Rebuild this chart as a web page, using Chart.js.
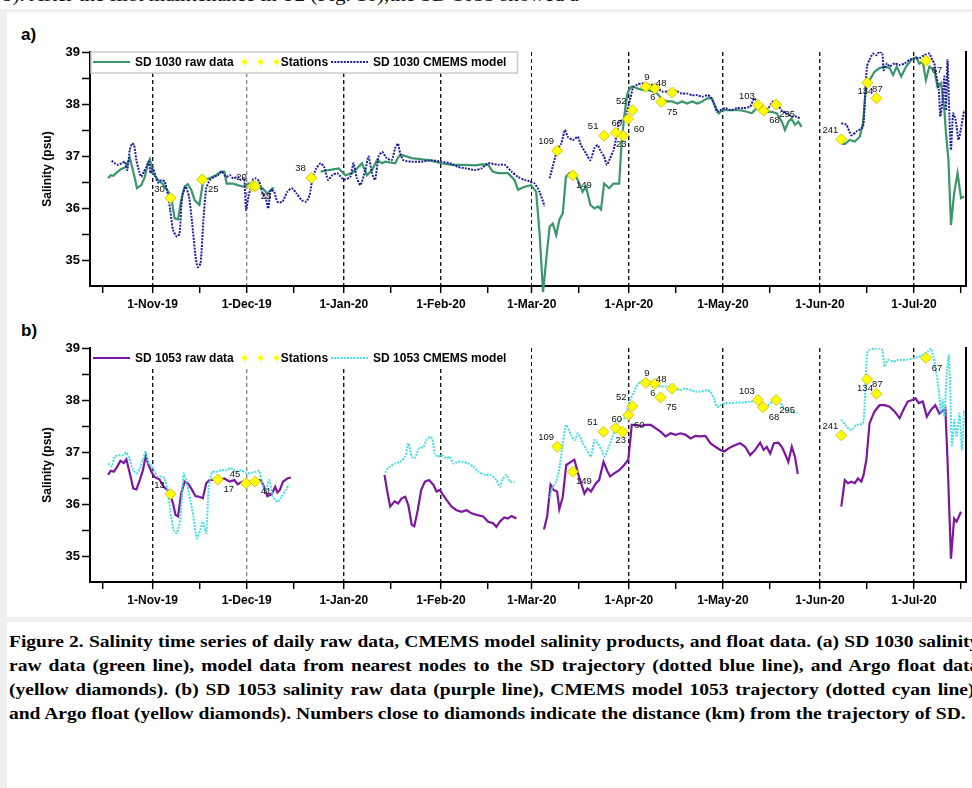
<!DOCTYPE html>
<html>
<head>
<meta charset="utf-8">
<script src="https://cdn.jsdelivr.net/npm/chart.js@4.4.1/dist/chart.umd.min.js"></script>
<style>
  html, body { margin: 0; padding: 0; background: #fff; }
  body { width: 972px; height: 788px; overflow: hidden; position: relative; font-family: "Liberation Sans", Arial, sans-serif; }
  #toptext { position: absolute; left: 2px; top: -15px; font: 18px "Liberation Serif", serif; white-space: nowrap; color: #111; transform: scaleX(1.17); transform-origin: 0 0; }
  #frame { position: absolute; left: 0; top: 9px; width: 972px; height: 779px; border-left: 7px solid #efefef; border-top: 3px solid #efefef; box-sizing: border-box; }
  #band { position: absolute; left: 0; top: 617px; width: 972px; height: 5px; background: #efefef; }
  .panel { position: absolute; left: 21px; font: bold 17px/17px "Liberation Sans", Arial, sans-serif; color: #000; }
  canvas { position: absolute; left: 0; }
  #caption { position: absolute; left: 9px; top: 630px; width: 846px; font: bold 17px/24px "Liberation Serif", serif; color: #000; transform: scaleX(1.147); transform-origin: 0 0; }
  #caption div { white-space: nowrap; }
  #caption .just { text-align: justify; text-align-last: justify; }
</style>
</head>
<body>
<div id="toptext">b). After the first maintenance in T2 (Fig. 10),the SD 1053 showed a</div>
<div id="frame"></div>
<div id="band"></div>
<div class="panel" style="top:26px">a)</div>
<div class="panel" style="top:322px">b)</div>
<canvas id="chart-a" width="972" height="296" style="top:20px"></canvas>
<canvas id="chart-b" width="972" height="300" style="top:316px"></canvas>
<div id="caption">
  <div class="just">Figure 2. Salinity time series of daily raw data, CMEMS model salinity products, and float data. (a) SD 1030 salinity</div>
  <div class="just">raw data (green line), model data from nearest nodes to the SD trajectory (dotted blue line), and Argo float data</div>
  <div class="just">(yellow diamonds). (b) SD 1053 salinity raw data (purple line), CMEMS model 1053 trajectory (dotted cyan line),</div>
  <div>and Argo float (yellow diamonds). Numbers close to diamonds indicate the distance (km) from the trajectory of SD.</div>
</div>
<script>
// x values are days counted from 1 Oct 2019 (day 0)
const monthTicks = [31, 61, 92, 123, 152, 183, 213, 244, 274];
const monthLabels = ["1-Nov-19", "1-Dec-19", "1-Jan-20", "1-Feb-20", "1-Mar-20", "1-Apr-20", "1-May-20", "1-Jun-20", "1-Jul-20"];
const midMonthTicks = [15, 46, 76, 107, 138, 167, 198, 228, 259, 289];
const salinityTicks = [35, 35.5, 36, 36.5, 37, 37.5, 38, 38.5, 39];

// [day, salinity]; a null salinity breaks the line
const sd1030Raw = [
  [16.8, 36.57], [17.6, 36.63], [18.4, 36.62], [19.5, 36.68], [20.7, 36.74], [22.4, 36.79], [23.7, 36.96], [24.8, 36.7],
  [26, 36.38], [27.4, 36.44], [28.5, 36.6], [29.5, 36.86], [30.1, 36.94], [31.1, 36.67], [32.7, 36.54], [34.1, 36.47],
  [35.6, 36.35], [36.9, 36.22], [38, 35.8], [39.1, 35.78], [40.1, 36.15], [41.2, 36.41], [42.2, 36.46], [43.3, 36.35],
  [44.4, 36.15], [45.9, 36.06], [47, 36.47], [47.5, 36.54], [49.1, 36.57], [51.2, 36.63], [52.8, 36.7], [53.9, 36.7],
  [54.6, 36.47], [56.5, 36.47], [58.1, 36.44], [59.9, 36.41], [61.6, 36.47], [62.9, 36.44], [66.1, 36.38], [67.6, 36.28],
  [69.2, 36.38], [69.8, 36.38],
  [77, null],
  [84.6, 36.7], [87.2, 36.73], [90.4, 36.76], [92.5, 36.63], [94.6, 36.67], [96.2, 36.76], [97.8, 36.86], [99.4, 36.63],
  [101, 36.73], [102.6, 36.92], [104.2, 36.86], [105.2, 36.89], [108.4, 36.86], [109.5, 36.99], [110.5, 37.02], [113.7, 36.96],
  [119, 36.92], [123.2, 36.86], [126.4, 36.83], [130.7, 36.83], [134, 36.82], [136, 36.84], [138.1, 36.83], [139.5, 36.7],
  [141.3, 36.67], [144.4, 36.67], [146.5, 36.54], [147.6, 36.35], [149.7, 36.41], [151.8, 36.44], [153.4, 36.31], [154.5, 35.51],
  [155.6, 34.38], [156.6, 35.0], [157.7, 35.64], [158.7, 35.7], [159.8, 35.48], [160.8, 35.77], [161.9, 35.9], [162.9, 36.6],
  [164, 36.67], [165.6, 36.67], [167.2, 36.47], [168.2, 36.31], [169.3, 36.41], [170.7, 36.06], [172, 35.99], [173.2, 36.03],
  [174.1, 35.97], [175.1, 36.47], [176.7, 36.38], [178.1, 36.47], [179.9, 36.47], [180.6, 37.18], [181.5, 37.76], [182.5, 38.2],
  [183.6, 38.33], [184.6, 38.33], [185.7, 38.3], [187.3, 38.27], [188.9, 38.27], [190.5, 38.24], [192.1, 38.2], [193.7, 38.08],
  [195.2, 38.05], [196.8, 38.05], [198.4, 38.01], [200, 38.05], [201.6, 38.01], [203.2, 38.05], [204.8, 38.01], [206.4, 38.05],
  [208, 38.11], [209.5, 38.11], [210.6, 37.95], [211.7, 37.82], [212.7, 37.88], [214.3, 37.88], [216.4, 37.88], [218.5, 37.88],
  [220.7, 37.85], [222.2, 37.82], [223.8, 37.92], [224.9, 37.98], [225.9, 37.88], [227, 37.85], [228.6, 37.85], [230.2, 37.82],
  [231.8, 37.66], [232.8, 37.5], [233.9, 37.66], [234.9, 37.72], [236, 37.6], [237.1, 37.66], [238.1, 37.56],
  [244, null],
  [250.8, 37.24], [251.9, 37.23], [253.5, 37.31], [255.1, 37.28], [256.7, 37.37], [257.7, 37.63], [258.6, 38.27], [259.8, 38.46],
  [261.4, 38.62], [263, 38.69], [264.6, 38.72], [266.2, 38.69], [267.3, 38.56], [268.5, 38.72], [269.9, 38.53], [271.5, 38.72],
  [273.1, 38.85], [274.7, 38.9], [275.7, 38.78], [276.8, 38.81], [277.8, 38.46], [278.9, 38.72], [280.5, 38.65], [281.5, 38.33],
  [282.6, 38.4], [283.7, 37.88], [284.2, 37.44], [285, 36.92], [285.8, 35.67], [286.8, 36.28], [287.9, 36.67], [289, 36.19],
  [290, 36.22],
];

const sd1030Model = [
  [17.9, 36.91], [18.9, 36.86], [20, 36.83], [21.1, 36.86], [22.1, 36.89], [22.9, 36.73], [23.7, 37.12], [24.4, 37.24],
  [25.1, 37.21], [25.8, 36.92], [26.7, 36.7], [27.4, 36.6], [28.2, 36.7], [29, 36.79], [29.8, 36.89], [30.3, 36.67],
  [31.1, 36.76], [32, 36.6], [32.7, 36.49], [33.8, 36.54], [34.8, 36.51], [35.9, 36.25], [36.6, 35.96], [37.5, 35.58],
  [38.7, 35.45], [39.6, 35.51], [40.4, 36.22], [41.5, 36.41], [42.6, 36.22], [43.6, 35.71], [44.7, 35.06], [45.4, 34.86],
  [46.3, 34.94], [47.2, 35.77], [48.1, 36.38], [49.3, 36.54], [50.7, 36.6], [51.8, 36.63], [53.1, 36.7], [54.4, 36.6],
  [55.7, 36.63], [56.7, 36.57], [58.1, 36.6], [59.2, 36.54], [60.2, 36.57], [60.8, 35.96], [61.6, 36.22], [62.9, 36.54],
  [63.9, 36.57], [65, 36.51], [66.1, 36.28], [67.1, 36.19], [67.9, 35.99], [68.7, 36.35], [69.8, 36.31], [70.8, 36.12],
  [72.4, 36.12], [74, 36.31], [75.4, 36.38], [76.9, 36.28], [78.6, 36.15], [80, 36.12], [81.1, 36.25], [82, 36.57],
  [83.2, 36.76], [84.6, 36.86], [85.7, 36.79], [87, 36.54], [88.3, 36.63], [89.9, 36.67], [91.5, 36.57], [92.5, 36.55],
  [94.1, 36.6], [95.1, 36.86], [96.2, 36.57], [97.3, 36.44], [98.9, 36.73], [99.9, 36.99], [101, 36.67], [102, 36.54],
  [103.1, 36.99], [104.2, 37.08], [105.7, 36.96], [107.3, 36.92], [108.4, 37.15], [109.3, 37.24], [110, 37.05], [111, 36.92],
  [113.7, 36.89], [116.8, 36.89], [120, 36.92], [123.2, 36.89], [125.8, 36.86], [128.5, 36.79], [131.1, 36.76], [133.8, 36.73],
  [135.9, 36.76], [138.1, 36.86], [141.3, 36.83], [143.4, 36.83], [145.5, 36.7], [147.6, 36.6], [149.7, 36.54], [151.3, 36.51],
  [152.9, 36.47], [154.5, 36.31], [156.1, 36.03],
  [157, null],
  [157.7, 36.57], [158.7, 36.8], [160.1, 37.11], [161.4, 37.24], [162.6, 37.5], [163.5, 37.37], [165.1, 37.31], [166.7, 37.37],
  [167.7, 37.21], [169.3, 37.05], [170.7, 36.92], [172, 37.15], [173, 37.21], [174.1, 37.08], [175.1, 36.99], [176, 36.83],
  [177, 36.96], [178.1, 37.11], [178.8, 37.31], [179.9, 37.66], [181, 37.69], [182, 37.72], [182.5, 37.88], [183.6, 38.14],
  [184.4, 38.33], [185.7, 38.37], [187.3, 38.4], [188.9, 38.37], [190.5, 38.37], [192.1, 38.3], [193.7, 38.24], [195.2, 38.24],
  [196.8, 38.27], [198.4, 38.24], [200, 38.2], [201.6, 38.2], [203.2, 38.17], [204.8, 38.17], [206.4, 38.14], [208, 38.17],
  [209, 38.14], [210.1, 38.01], [211.1, 37.85], [212.2, 37.88], [213.8, 37.92], [215.4, 37.88], [217.5, 37.92], [219.6, 37.92],
  [221.7, 37.95], [223, 38.11], [223.8, 38.05], [224.9, 37.98], [226.2, 37.85], [227.5, 37.92], [229.1, 38.05], [230.4, 37.98],
  [231.8, 37.88], [233.4, 37.82], [235, 37.76], [236.5, 37.76], [237.6, 37.72],
  [244, null],
  [250.8, 37.63], [252.4, 37.6], [254, 37.4], [255.6, 37.47], [257.7, 37.56], [258.3, 38.08], [259, 38.72], [259.8, 38.85],
  [260.9, 38.97], [262, 38.94], [263, 39.01], [263.9, 38.97], [264.3, 38.65], [265.4, 38.78], [266.2, 38.72], [267.8, 38.78],
  [269.4, 38.75], [271, 38.78], [272.6, 38.85], [274.2, 38.88], [275.7, 38.88], [277.3, 38.94], [278.9, 38.97], [279.8, 38.85],
  [280.5, 38.78], [281, 38.59], [281.9, 38.27], [282.4, 37.76], [283.1, 38.08], [283.7, 38.53], [284.2, 37.88], [284.7, 38.85],
  [285.3, 37.76], [285.8, 37.12], [286.5, 37.82], [287.3, 37.69], [288.2, 37.31], [288.9, 37.5], [290, 37.88],
];

const stationsA = [
  [36.7, 36.19], [46.8, 36.55], [62.9, 36.42], [63.7, 36.42], [81.7, 36.58], [160.1, 37.1], [165.1, 36.63], [175.1, 37.39],
  [178.8, 37.45], [181.2, 37.39], [182.7, 37.71], [184.1, 37.88], [188.4, 38.33], [191.3, 38.3], [196.8, 38.22], [193.3, 38.04],
  [224.2, 37.98], [226, 37.87], [230, 37.99], [250.8, 37.32], [259.1, 38.41], [262, 38.11], [277.8, 38.83],
];
const stationKmA = ["30", "25", "20", "25", "38", "109", "149", "51", "60", "23", "60", "52", "9", "6", "48", "75", "103", "68", "295", "241", "134", "87", "67"];
const labelSideA = ["tl", "br", "tl", "br", "tl", "tl", "br", "tl", "t", "b", "br", "tl", "t", "b", "tl", "br", "tl", "br", "br", "tl", "b", "t", "br"];

const sd1053Raw = [
  [16.8, 36.56], [17.6, 36.64], [18.6, 36.62], [19.7, 36.72], [20.7, 36.83], [21.8, 36.79], [22.6, 36.86], [23.7, 36.59],
  [24.8, 36.3], [25.8, 36.28], [26.9, 36.46], [27.9, 36.65], [28.8, 36.93], [29.5, 36.78], [30.6, 36.62], [31.6, 36.52],
  [33.2, 36.47], [34.5, 36.33], [36.2, 36.24], [37.5, 36.01], [38.3, 35.79], [39.1, 35.76], [40.1, 36.2], [41.2, 36.43],
  [42.2, 36.4], [43.3, 36.3], [44.7, 36.15], [45.9, 36.14], [47, 36.11], [48.1, 36.4], [49.1, 36.46], [50.7, 36.47],
  [52.3, 36.46], [53.9, 36.49], [55.5, 36.43], [57.1, 36.46], [58.1, 36.38], [59.7, 36.43], [61.3, 36.43], [62.9, 36.41],
  [64.5, 36.46], [65.5, 36.46], [66.6, 36.33], [67.6, 36.15], [69, 36.19], [70.1, 36.33], [70.8, 36.22], [71.6, 36.27],
  [72.6, 36.43], [74, 36.49], [75.1, 36.51],
  [90, null],
  [105, 36.56], [105.8, 36.27], [106.8, 35.95], [108.2, 36.05], [109.3, 36.01], [110.5, 36.11], [111.6, 36.14], [112.6, 35.98],
  [113.7, 35.6], [114.5, 35.57], [115.6, 35.88], [116.7, 36.27], [117.9, 36.43], [119.2, 36.46], [120.6, 36.37], [121.6, 36.24],
  [122.7, 36.27], [123.4, 36.2], [124.8, 36.08], [126.4, 35.95], [128, 35.88], [129.6, 35.85], [131.2, 35.88], [132.8, 35.82],
  [134.4, 35.79], [136.5, 35.76], [138.1, 35.66], [139.7, 35.63], [140.7, 35.56], [141.8, 35.66], [143.2, 35.74], [144.4, 35.72],
  [145.5, 35.77], [147.1, 35.72],
  [150, null],
  [155.9, 35.51], [156.9, 35.76], [158, 36.37], [159, 36.27], [160.1, 36.24], [160.8, 35.9], [161.9, 36.14], [163, 36.75],
  [164.5, 36.81], [165.6, 36.85], [166.7, 36.6], [168.8, 36.2], [169.8, 36.3], [170.9, 36.24], [172.5, 36.4], [173.5, 36.46],
  [174.9, 36.81], [176.2, 36.62], [177, 36.53], [178.3, 36.59], [179.9, 36.65], [181.5, 36.75], [182.8, 36.85], [183.4, 37.2],
  [183.9, 37.52], [185.2, 37.52], [186.8, 37.5], [188.4, 37.52], [190, 37.52], [191.5, 37.46], [193.1, 37.39], [194.7, 37.3],
  [196.3, 37.36], [197.9, 37.33], [199.5, 37.36], [201.1, 37.33], [202.7, 37.26], [204.3, 37.31], [205.8, 37.3], [207.4, 37.31],
  [209, 37.17], [210.6, 37.1], [212.2, 37.04], [213.5, 37.01], [214.8, 37.07], [216.4, 37.12], [218.5, 37.17], [220.1, 37.1],
  [221.7, 36.94], [223.3, 37.04], [224.9, 37.18], [226, 37.04], [227, 37.1], [228.1, 36.97], [229.3, 37.17], [230.7, 37.18],
  [231.8, 37.1], [232.8, 36.97], [233.9, 36.81], [235, 37.1], [236, 36.91], [236.9, 36.58],
  [244, null],
  [250.8, 35.95], [251.9, 36.46], [252.9, 36.4], [254, 36.43], [255.1, 36.4], [256.1, 36.49], [257.2, 36.43], [257.9, 36.56],
  [258.8, 36.85], [259.8, 37.55], [261.4, 37.78], [263, 37.9], [264.6, 37.9], [266.2, 37.87], [267.8, 37.78], [269.4, 37.65],
  [270.6, 37.81], [272, 37.97], [273.4, 38.0], [274.5, 38.03], [275.5, 37.94], [276.8, 37.97], [278.1, 37.68], [279.4, 37.81],
  [280.8, 37.9], [282.1, 37.74], [282.9, 37.78], [284, 37.84], [284.7, 36.85], [285.8, 34.95], [286.8, 35.72], [287.6, 35.66],
  [289, 35.85],
];

const sd1053Model = [
  [16.8, 36.78], [17.9, 36.72], [18.9, 36.91], [20.3, 36.94], [21.6, 36.94], [22.6, 36.99], [23.5, 36.88], [24.8, 36.65],
  [26, 36.59], [27.1, 36.72], [27.9, 36.85], [28.8, 37.01], [29.5, 36.81], [30.6, 36.72], [31.6, 36.62], [32.7, 36.53],
  [33.8, 36.53], [34.8, 36.49], [35.9, 36.24], [36.6, 35.88], [37.7, 35.5], [38.7, 35.44], [39.8, 35.69], [40.9, 36.59],
  [41.9, 36.4], [43, 36.08], [44, 35.76], [45.1, 35.34], [46.2, 35.5], [47, 35.66], [48.1, 35.44], [48.9, 36.33],
  [50, 36.62], [51.2, 36.62], [52.8, 36.65], [54.4, 36.65], [56, 36.69], [57.6, 36.62], [59.2, 36.65], [60.8, 36.59],
  [62.4, 36.6], [63.9, 36.62], [65, 36.64], [65.8, 36.43], [66.9, 36.24], [68.2, 36.46], [69.4, 36.14], [70.8, 36.04],
  [72.2, 36.14], [73.5, 36.27], [74.5, 36.37],
  [90, null],
  [105.2, 36.6], [106.3, 36.7], [108.4, 36.78], [110, 36.81], [111.6, 36.91], [112.6, 37.17], [113.7, 36.91], [114.7, 36.88],
  [116, 37.07], [117.4, 37.1], [118.4, 37.23], [119.5, 37.29], [120.2, 37.26], [121.1, 36.97], [122.1, 36.91], [123.2, 36.94],
  [124.8, 36.88], [125.8, 36.91], [126.9, 36.78], [128.5, 36.81], [130.1, 36.81], [131.7, 36.78], [133.3, 36.72], [135, 36.62],
  [137, 36.56], [139, 36.56], [140.7, 36.46], [141.8, 36.33], [142.8, 36.49], [143.9, 36.56], [145, 36.43], [146.5, 36.43],
  [150, null],
  [157.7, 36.11], [158.7, 36.33], [159.8, 36.43], [160.8, 36.68], [161.9, 37.17], [163, 37.52], [164.5, 37.33], [165.8, 37.23],
  [166.7, 37.36], [168.3, 37.17], [169.6, 37.04], [170.9, 36.91], [172, 37.23], [173, 37.17], [174.3, 37.04], [175.3, 36.91],
  [176.4, 37.07], [177.6, 37.26], [178.5, 37.42], [179.4, 37.55], [180.4, 37.62], [181.5, 37.65], [182.5, 37.81], [183.4, 38.0],
  [184.7, 38.16], [185.7, 38.29], [186.8, 38.35], [188.4, 38.38], [190, 38.35], [191.5, 38.29], [193.1, 38.26], [194.7, 38.26],
  [196.3, 38.26], [197.9, 38.22], [199.5, 38.19], [201.1, 38.22], [202.7, 38.19], [204.3, 38.16], [205.8, 38.16], [208, 38.19],
  [209, 38.16], [210.1, 38.03], [211.1, 37.87], [212.2, 37.9], [213.8, 37.94], [215.4, 37.94], [217.5, 37.95], [219.6, 37.95],
  [221.7, 37.97], [223.8, 37.97], [225.4, 37.87], [227, 37.87], [228.6, 37.97], [229.7, 38.05], [230.7, 38.0], [231.8, 37.9],
  [233.4, 37.81], [235, 37.78], [236.6, 37.74],
  [244, null],
  [250.8, 37.62], [252.4, 37.49], [254, 37.42], [255.6, 37.52], [257.7, 37.55], [258.3, 38.0], [259, 38.9], [259.8, 38.96],
  [261.4, 38.99], [263, 38.99], [263.9, 38.96], [264.6, 38.64], [265.7, 38.77], [267.3, 38.74], [268.9, 38.77], [270.4, 38.77],
  [272, 38.78], [273.6, 38.8], [275.2, 38.83], [276.8, 38.87], [278.4, 38.93], [279.4, 38.99], [280.2, 38.83], [281, 38.58],
  [281.9, 38.19], [282.6, 37.74], [283.1, 38.0], [283.7, 37.68], [284.4, 38.45], [285.1, 38.87], [285.6, 38.13], [286.1, 37.13],
  [286.9, 37.62], [287.6, 37.29], [288.5, 37.74], [289.3, 37.04], [290, 37.81],
];

const stationsB = [
  [36.7, 36.19], [51.8, 36.47], [60.8, 36.4], [63.7, 36.43], [160.1, 37.1], [165.1, 36.62], [174.9, 37.39], [178.8, 37.46],
  [181, 37.39], [182.8, 37.71], [184.1, 37.88], [188.4, 38.33], [191.3, 38.31], [196.8, 38.22], [193.1, 38.05], [224.2, 38.0],
  [225.8, 37.86], [230, 38.0], [250.8, 37.32], [259, 38.4], [262, 38.12], [277.8, 38.81],
];
const stationKmB = ["13", "17", "45", "41", "109", "149", "51", "60", "23", "60", "52", "9", "6", "48", "75", "103", "68", "295", "241", "134", "87", "67"];
const labelSideB = ["tl", "br", "tl", "br", "tl", "br", "tl", "t", "b", "br", "tl", "t", "b", "tl", "br", "tl", "br", "br", "tl", "b", "t", "br"];

const sideOffsets = { tl: [-11, -9], br: [11, 10], t: [1, -9], b: [-2, 9] };

Chart.defaults.font.family = '"Liberation Sans", Arial, sans-serif';
Chart.defaults.color = "#000";

const toPoints = (rows) => rows.map(([x, y]) => ({ x, y }));

const drawDiamond = (ctx, x, y, r) => {
  ctx.beginPath();
  ctx.moveTo(x - r, y);
  ctx.lineTo(x, y - r);
  ctx.lineTo(x + r, y);
  ctx.lineTo(x, y + r);
  ctx.closePath();
  ctx.fill();
};

// distance labels next to the station diamonds
const stationLabels = {
  id: "stationLabels",
  afterDatasetsDraw(chart, args, opts) {
    const { ctx } = chart;
    const meta = chart.getDatasetMeta(1);
    ctx.save();
    ctx.font = '9.5px "Liberation Sans", Arial, sans-serif';
    ctx.fillStyle = "#111";
    ctx.textAlign = "center";
    ctx.textBaseline = "middle";
    meta.data.forEach((pt, i) => {
      const [dx, dy] = sideOffsets[opts.sides[i]];
      ctx.fillText(opts.labels[i], pt.x + dx, pt.y + dy);
    });
    ctx.restore();
  },
};

// legend drawn inside the top-left corner of the plot
const insideLegend = {
  id: "insideLegend",
  afterDatasetsDraw(chart, args, opts) {
    const { ctx, chartArea } = chart;
    const y = chartArea.top + 10;
    ctx.save();
    ctx.font = 'bold 12px "Liberation Sans", Arial, sans-serif';
    let x = chartArea.left + 3;
    const parts = chart.data.datasets.map((ds) => {
      const isPoint = ds.showLine === false;
      const start = x;
      const textX = x + (isPoint ? 39 : 42);
      x = textX + ctx.measureText(ds.label).width + (isPoint ? 3 : 8);
      return { ds, isPoint, start, textX };
    });
    const boxW = x + 2 - chartArea.left;
    ctx.fillStyle = "#fff";
    ctx.fillRect(chartArea.left + 1, chartArea.top, boxW, 21);
    if (opts.boxed) {
      ctx.strokeStyle = "#cccccc";
      ctx.lineWidth = 1.5;
      ctx.strokeRect(chartArea.left + 1, chartArea.top, boxW, 21);
    }
    parts.forEach(({ ds, isPoint, start, textX }) => {
      if (isPoint) {
        ctx.fillStyle = ds.backgroundColor;
        [3, 19, 35].forEach((dx) => drawDiamond(ctx, start + dx, y, 3.2));
      } else {
        ctx.strokeStyle = ds.borderColor;
        ctx.lineWidth = ds.borderWidth;
        ctx.setLineDash(ds.borderDash || []);
        ctx.beginPath();
        ctx.moveTo(start, y);
        ctx.lineTo(start + 37, y);
        ctx.stroke();
        ctx.setLineDash([]);
      }
      ctx.fillStyle = "#000";
      ctx.textBaseline = "middle";
      ctx.fillText(ds.label, textX, y + 0.5);
    });
    ctx.restore();
  },
};

const gridColor = (value) => {
  if (!monthTicks.includes(value)) return "rgba(0,0,0,0)";
  return value === 61 ? "#8c8c8c" : "#151515";
};

const renderChart = ({ canvasId, raw, model, stations, kms, sides, rawLabel, modelLabel, rawColor, modelColor, boxed, padBottom }) =>
  new Chart(document.getElementById(canvasId).getContext("2d"), {
    type: "line",
    data: {
      datasets: [
        {
          label: rawLabel,
          data: toPoints(raw),
          borderColor: rawColor,
          borderWidth: 2.2,
          pointRadius: 0,
          tension: 0,
          spanGaps: false,
          clip: false,
          order: 2,
        },
        {
          label: "Stations",
          data: toPoints(stations),
          showLine: false,
          pointStyle: "rectRot",
          pointRadius: 5.5,
          backgroundColor: "#ffff00",
          borderColor: "#c9b600",
          borderWidth: 0.8,
          order: 0,
        },
        {
          label: modelLabel,
          data: toPoints(model),
          borderColor: modelColor,
          borderWidth: 2,
          borderDash: [2, 1.2],
          pointRadius: 0,
          tension: 0.2,
          spanGaps: false,
          order: 1,
        },
      ],
    },
    options: {
      responsive: false,
      animation: false,
      layout: { padding: { left: 36, right: 2, top: 32, bottom: padBottom } },
      scales: {
        x: {
          type: "linear",
          min: 11,
          max: 290.5,
          afterBuildTicks: (scale) => {
            scale.ticks = [...monthTicks, ...midMonthTicks].sort((a, b) => a - b).map((value) => ({ value }));
          },
          afterFit: (scale) => {
            scale.height = 30;
          },
          ticks: {
            autoSkip: false,
            maxRotation: 0,
            padding: 4,
            font: { size: 12, weight: "bold" },
            callback: (value) => {
              const i = monthTicks.indexOf(value);
              return i >= 0 ? monthLabels[i] : "";
            },
          },
          grid: {
            color: (c) => (c.tick ? gridColor(c.tick.value) : "#000"),
            lineWidth: (c) => (c.tick && c.tick.value === 152 ? 1 : 1.4),
            tickColor: "#000",
            tickWidth: 1.5,
            tickLength: 7,
          },
          border: { color: "#000", width: 2, dash: [4, 3] },
        },
        y: {
          min: 34.5,
          max: 39,
          afterBuildTicks: (scale) => {
            scale.ticks = salinityTicks.map((value) => ({ value }));
          },
          afterFit: (scale) => {
            scale.width = 54;
          },
          ticks: {
            autoSkip: false,
            padding: 2,
            font: { size: 13, weight: "bold" },
            callback: (value) => (Number.isInteger(value) ? value : ""),
          },
          grid: { drawOnChartArea: false, tickColor: "#000", tickWidth: 1.5, tickLength: 8 },
          border: { color: "#000", width: 2 },
          title: {
            display: true,
            text: "Salinity (psu)",
            font: { size: 12, weight: "bold" },
            padding: { top: 4, bottom: 4 },
          },
        },
        y2: {
          position: "right",
          min: 34.5,
          max: 39,
          afterFit: (scale) => {
            scale.width = 0;
          },
          ticks: { display: false },
          grid: { drawOnChartArea: false, drawTicks: false },
          border: { color: "#000", width: 2 },
        },
      },
      plugins: {
        legend: { display: false },
        tooltip: { enabled: false },
        stationLabels: { labels: kms, sides },
        insideLegend: { boxed },
      },
    },
    plugins: [stationLabels, insideLegend],
  });

renderChart({
  canvasId: "chart-a",
  raw: sd1030Raw,
  model: sd1030Model,
  stations: stationsA,
  kms: stationKmA,
  sides: labelSideA,
  rawLabel: "SD 1030 raw data",
  modelLabel: "SD 1030 CMEMS model",
  rawColor: "#3a966b",
  modelColor: "#1c1c9e",
  boxed: true,
  padBottom: 0,
});

renderChart({
  canvasId: "chart-b",
  raw: sd1053Raw,
  model: sd1053Model,
  stations: stationsB,
  kms: stationKmB,
  sides: labelSideB,
  rawLabel: "SD 1053 raw data",
  modelLabel: "SD 1053 CMEMS model",
  rawColor: "#7b179f",
  modelColor: "#46dde0",
  boxed: false,
  padBottom: 4,
});
</script>
</body>
</html>
